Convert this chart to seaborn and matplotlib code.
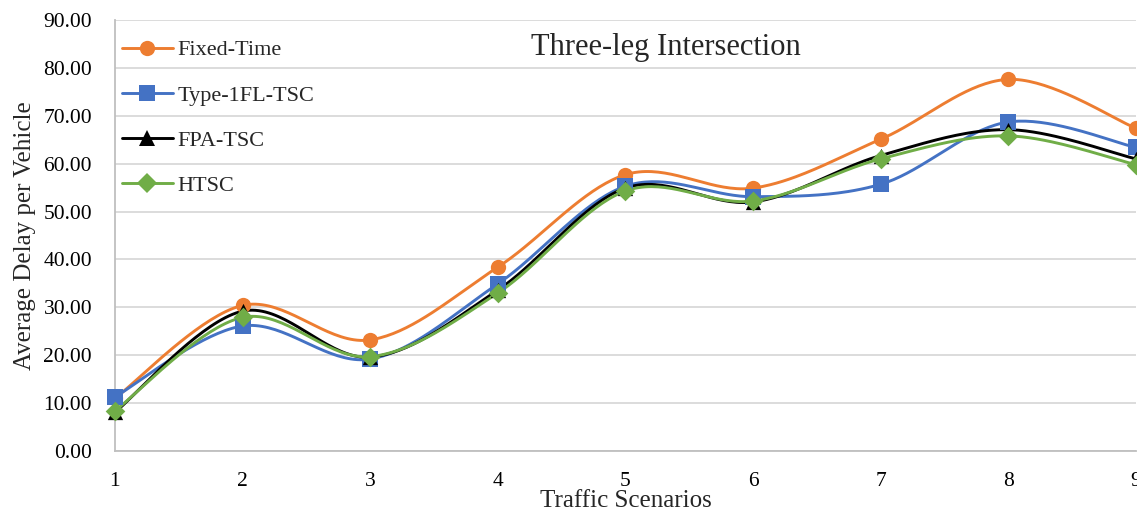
import numpy as np
import pandas as pd
import matplotlib
matplotlib.use("Agg")
import matplotlib.pyplot as plt
from matplotlib.lines import Line2D
import seaborn as sns

# Average delay per vehicle for each signal control scheme
scenarios = [1, 2, 3, 4, 5, 6, 7, 8, 9]
fixed_time = [11.0, 30.4, 23.2, 38.4, 57.7, 54.9, 65.1, 77.6, 67.4]
type_1fl_tsc = [11.3, 26.1, 19.2, 34.9, 55.3, 53.1, 55.7, 68.7, 63.4]
fpa_tsc = [8.1, 29.2, 19.6, 33.6, 54.9, 52.0, 61.7, 67.1, 61.0]
htsc = [8.4, 27.9, 19.7, 33.0, 54.3, 52.2, 61.0, 65.8, 59.8]

series_names = ["Fixed-Time", "Type-1FL-TSC", "FPA-TSC", "HTSC"]
series_values = [fixed_time, type_1fl_tsc, fpa_tsc, htsc]

colors = ["#ED7D31", "#4472C4", "#000000", "#70AD47"]
markers = ["o", "s", "^", "D"]
msizes = [11, 11, 11, 10]


def smooth_curve(x, y, n=40):
    """Bezier smoothing through every point (Catmull-Rom style control points)."""
    x = np.asarray(x, float)
    y = np.asarray(y, float)
    pts = np.column_stack([x, y])
    ext = np.vstack([pts[0], pts, pts[-1]])
    out = []
    t = np.linspace(0, 1, n)
    for i in range(len(pts) - 1):
        p0 = ext[i + 1]
        p3 = ext[i + 2]
        c1 = p0 + (ext[i + 2] - ext[i]) / 6.0
        c2 = p3 - (ext[i + 3] - ext[i + 1]) / 6.0
        seg = ((1 - t) ** 3)[:, None] * p0 + (3 * (1 - t) ** 2 * t)[:, None] * c1 \
            + (3 * (1 - t) * t ** 2)[:, None] * c2 + (t ** 3)[:, None] * p3
        out.append(seg if i == 0 else seg[1:])
    seg = np.vstack(out)
    return seg[:, 0], seg[:, 1]


sns.set_theme(style="white")
plt.rcParams["font.family"] = ["Liberation Serif", "DejaVu Serif"]

fig = plt.figure(figsize=(11.37, 5.13), dpi=100)
ax = fig.add_axes([0.1011, 0.1209, 0.8980, 0.8401])

handles = []
for name, vals, c, m, ms in zip(series_names, series_values, colors, markers, msizes):
    sx, sy = smooth_curve(scenarios, vals)
    curve = pd.DataFrame({"x": sx, "y": sy})
    sns.lineplot(data=curve, x="x", y="y", ax=ax, color=c, linewidth=2.1,
                 sort=False, estimator=None, zorder=3)
    pts = pd.DataFrame({"x": scenarios, "y": vals})
    sns.scatterplot(data=pts, x="x", y="y", ax=ax, color=c, marker=m,
                    s=ms ** 2, linewidth=0, zorder=4, clip_on=False)
    handles.append(Line2D([], [], color=c, marker=m, markersize=ms,
                          linewidth=2.1, markeredgewidth=0))

ax.set_xlim(1, 9)
ax.set_ylim(0, 90)
ax.set_xticks(scenarios)
ax.set_xticklabels([str(s) for s in scenarios])
ax.set_yticks(np.arange(0, 91, 10))
ax.set_yticklabels([f"{v:.2f}" for v in np.arange(0, 91, 10)])
ax.tick_params(axis="both", labelsize=15.5, length=0, colors="#000000")
ax.tick_params(axis="x", pad=15)
ax.tick_params(axis="y", pad=16.5)

ax.grid(axis="y", color="#D9D9D9", linewidth=1.3)
ax.grid(axis="x", visible=False)
for side in ["top", "right"]:
    ax.spines[side].set_visible(False)
for side in ["left", "bottom"]:
    ax.spines[side].set_color("#BFBFBF")
    ax.spines[side].set_linewidth(1.3)

ax.set_xlabel("Traffic Scenarios", fontsize=18, labelpad=-0.5)
ax.set_ylabel("Average Delay per Vehicle", fontsize=18, labelpad=5)

ax.text(0.54, 0.937, "Three-leg Intersection", transform=ax.transAxes,
        ha="center", va="center", fontsize=22)

ax.legend(handles, series_names, loc="upper left", bbox_to_anchor=(-0.0065, 0.985),
          frameon=False, fontsize=16, handlelength=2.3, handletextpad=0.2,
          labelspacing=1.11, borderaxespad=0.2)

fig.savefig("out.png", dpi=100)
